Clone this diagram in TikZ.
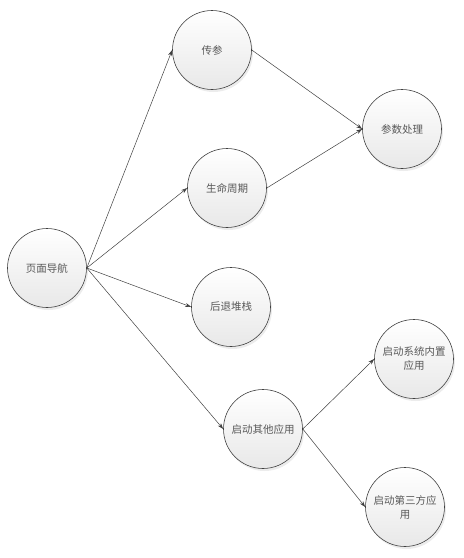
\documentclass[tikz,border=0pt]{standalone}
\usepackage{fontspec}
\setmainfont{Noto Sans CJK SC}
\usepackage{xcolor}
\usepackage{tikz}
\usetikzlibrary{arrows.meta,shadows}

\begin{document}
\begin{tikzpicture}[
  x=1pt, y=-1pt,
  font=\fontsize{10.5pt}{14pt}\selectfont,
  ball/.style={circle, draw=black!75, line width=0.6pt, minimum size=79pt,
               inner sep=0pt, align=center, text=black!65,
               top color=white, bottom color=black!9,
               drop shadow={opacity=0.15, shadow xshift=1.5pt, shadow yshift=-2.5pt}},
  arr/.style={-{Stealth[length=6pt, width=4pt]}, draw=black!75, line width=0.5pt}
]
\useasboundingbox (0,0) rectangle (464,558);
\node[ball] (nav)   at (47,268)  {页面导航};
\node[ball] (param) at (212,50)  {传参};
\node[ball] (proc)  at (402,129) {参数处理};
\node[ball] (life)  at (227,188) {生命周期};
\node[ball] (back)  at (231,307) {后退堆栈};
\node[ball] (other) at (263,429) {启动其他应用};
\node[ball] (sys)   at (414,359) {启动系统内置\\应用};
\node[ball] (third) at (405,507) {启动第三方应\\用};
\draw[arr] (nav.east) -- (param.west);
\draw[arr] (nav.east) -- (life.west);
\draw[arr] (nav.east) -- (back.west);
\draw[arr] (nav.east) -- (other.west);
\draw[arr] (param.east) -- (proc.west);
\draw[arr] (life.east) -- (proc.west);
\draw[arr] (other.east) -- (sys.west);
\draw[arr] (other.east) -- (third.west);
\end{tikzpicture}
\end{document}
